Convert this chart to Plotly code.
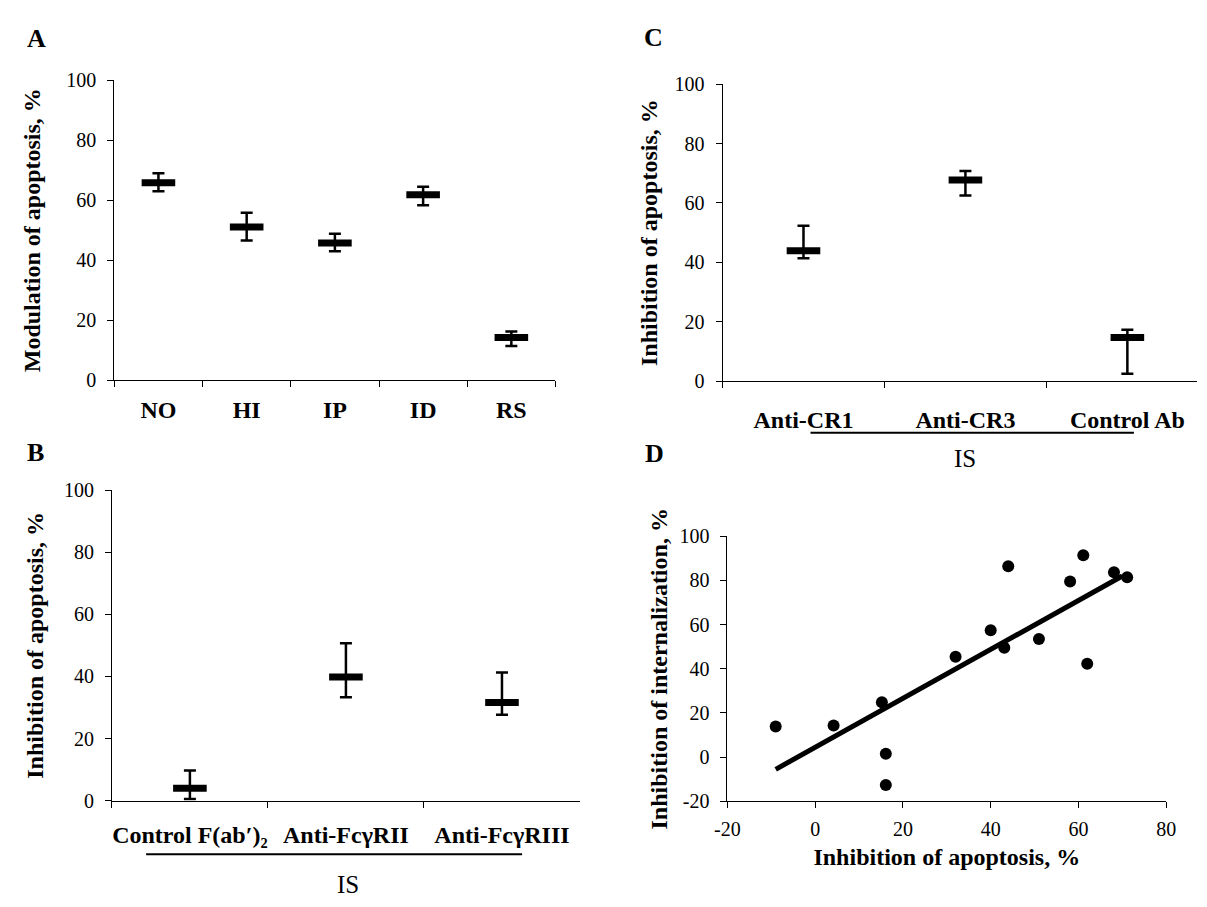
import plotly.graph_objects as go

W, H = 1207, 907

# ---------------- data ----------------
# Panel A
a_cats = ["NO", "HI", "IP", "ID", "RS"]
a_mean = [65.8, 51.1, 45.7, 61.8, 14.2]
a_upper = [69.0, 55.8, 48.8, 64.5, 16.2]
a_lower = [63.0, 46.6, 43.0, 58.3, 11.4]

# Panel B
b_cats = ["Control F(ab′)₂", "Anti-FcγRII", "Anti-FcγRIII"]
b_mean = [4.0, 39.8, 31.6]
b_upper = [9.7, 50.7, 41.3]
b_lower = [0.5, 33.3, 27.7]

# Panel C
c_cats = ["Anti-CR1", "Anti-CR3", "Control Ab"]
c_mean = [43.9, 67.7, 14.7]
c_upper = [52.3, 70.8, 17.3]
c_lower = [41.4, 62.5, 2.5]

# Panel D
d_apoptosis = [-9.0, 4.2, 15.2, 16.1, 16.1, 32.0, 40.0, 43.1, 44.0, 51.0, 58.1, 61.1, 62.0, 68.1, 71.1]
d_internal = [13.9, 14.3, 24.9, 1.5, -12.6, 45.5, 57.4, 49.5, 86.4, 53.5, 79.5, 91.4, 42.3, 83.7, 81.4]
d_trend_x = [-9.0, 70.0]
d_trend_y = [-5.5, 82.0]

# tick labels
pct_ticks = [0, 20, 40, 60, 80, 100]
d_xticks = [-20, 0, 20, 40, 60, 80]
d_yticks = [-20, 0, 20, 40, 60, 80, 100]

# ---------------- style ----------------
FONT = "Liberation Serif, Times New Roman, serif"
BLACK = "#000000"
TICK_FONT = dict(family=FONT, size=20, color=BLACK)
BOLD = dict(family=FONT, size=24, color=BLACK, weight="bold")


def xd(x0, x1):
    return [x0 / W, min(x1 / W, 1.0)]


def yd(ytop, ybot):
    return [1 - ybot / H, 1 - ytop / H]


def lbl(v):
    return str(v).replace("\u2212", "-")


fig = go.Figure()


def add_err(cats, mean, upper, lower, xa, ya):
    fig.add_trace(go.Scatter(
        x=cats, y=mean, xaxis=xa, yaxis=ya, mode="markers",
        marker=dict(symbol="line-ew", size=24, color=BLACK,
                    line=dict(color=BLACK, width=7)),
        error_y=dict(type="data", symmetric=False,
                     array=[u - m for u, m in zip(upper, mean)],
                     arrayminus=[m - l for m, l in zip(mean, lower)],
                     color=BLACK, thickness=2.5, width=6),
        showlegend=False, cliponaxis=False,
    ))


add_err(a_cats, a_mean, a_upper, a_lower, "x", "y")
add_err(b_cats, b_mean, b_upper, b_lower, "x2", "y2")
add_err(c_cats, c_mean, c_upper, c_lower, "x3", "y3")

fig.add_trace(go.Scatter(
    x=d_trend_x, y=d_trend_y, xaxis="x4", yaxis="y4", mode="lines",
    line=dict(color=BLACK, width=5), showlegend=False,
))
fig.add_trace(go.Scatter(
    x=d_apoptosis, y=d_internal, xaxis="x4", yaxis="y4", mode="markers",
    marker=dict(symbol="circle", size=12, color=BLACK), showlegend=False,
    cliponaxis=False,
))

cat_x_common = dict(
    type="category", tickson="boundaries", ticks="outside", ticklen=6,
    tickcolor=BLACK, showline=True, linecolor=BLACK, linewidth=1,
    showgrid=False, zeroline=False, tickfont=BOLD, tickangle=0,
)
y_common = dict(
    range=[0, 100], tickvals=pct_ticks, ticktext=[lbl(v) for v in pct_ticks],
    ticks="outside", ticklen=6, tickcolor=BLACK,
    showline=True, linecolor=BLACK, linewidth=1, showgrid=False,
    zeroline=False, tickfont=TICK_FONT, ticklabelstandoff=7,
)

fig.update_layout(
    width=W, height=H, margin=dict(l=0, r=0, t=0, b=0),
    paper_bgcolor="white", plot_bgcolor="white", showlegend=False,
    font=dict(family=FONT, color=BLACK),
    # Panel A
    xaxis=dict(domain=xd(103.3, 553), anchor="y", range=[-0.5, 4.5],
               categoryorder="array", categoryarray=a_cats,
               ticklabelstandoff=8, **cat_x_common),
    yaxis=dict(domain=yd(71, 378.3), anchor="x",
               title=dict(text="Modulation of apoptosis, %", font=BOLD, standoff=18),
               **y_common),
    # Panel B
    xaxis2=dict(domain=xd(100.8, 578), anchor="y2", range=[-0.5, 2.5],
                categoryorder="array", categoryarray=b_cats,
                ticklabelstandoff=13, **cat_x_common),
    yaxis2=dict(domain=yd(491, 809.3), anchor="x2",
                title=dict(text="Inhibition of apoptosis, %", font=BOLD, standoff=13),
                **y_common),
    # Panel C
    xaxis3=dict(domain=xd(723.3, 1207), anchor="y3", range=[-0.5, 2.43],
                categoryorder="array", categoryarray=c_cats,
                ticklabelstandoff=17, **cat_x_common),
    yaxis3=dict(domain=yd(75, 379.3), anchor="x3",
                title=dict(text="Inhibition of apoptosis, %", font=BOLD, standoff=10),
                **y_common),
    # Panel D
    xaxis4=dict(domain=xd(728.3, 1175.6), anchor="y4", range=[-20, 80],
                tickvals=d_xticks, ticktext=[lbl(v) for v in d_xticks],
                ticks="outside", ticklen=6, tickcolor=BLACK, showline=True,
                linecolor=BLACK, linewidth=1, showgrid=False, zeroline=False,
                tickfont=TICK_FONT, ticklabelstandoff=4,
                title=dict(text="Inhibition of apoptosis, %", font=BOLD, standoff=8)),
    yaxis4=dict(domain=yd(538.3, 810), anchor="x4", range=[-20, 100],
                tickvals=d_yticks, ticktext=[lbl(v) for v in d_yticks],
                ticks="outside", ticklen=6, tickcolor=BLACK, showline=True,
                linecolor=BLACK, linewidth=1, showgrid=False, zeroline=False,
                tickfont=TICK_FONT, ticklabelstandoff=7,
                title=dict(text="Inhibition of internalization, %", font=BOLD, standoff=5)),
)

# Panel letters
for letter, px, py in [("A", 24, 28), ("B", 23, 452), ("C", 653, 27), ("D", 654, 453)]:
    fig.add_annotation(text=letter, x=px / W, y=1 - py / H, xref="paper", yref="paper",
                       showarrow=False, xanchor="center", yanchor="middle",
                       font=dict(family=FONT, size=26, color=BLACK, weight="bold"))

# "IS" group labels with underline
for x0, x1, yline, xlab, ylab in [(135.7, 519, 864.3, 341, 895),
                                  (813, 1142.7, 432.3, 970, 459)]:
    fig.add_shape(type="line", xref="paper", yref="paper",
                  x0=x0 / W, x1=x1 / W, y0=1 - yline / H, y1=1 - yline / H,
                  line=dict(color=BLACK, width=2))
    fig.add_annotation(text="IS", x=xlab / W, y=1 - ylab / H, xref="paper", yref="paper",
                       showarrow=False, xanchor="center", yanchor="middle",
                       font=dict(family=FONT, size=25, color=BLACK))

fig.write_html("out.html")
